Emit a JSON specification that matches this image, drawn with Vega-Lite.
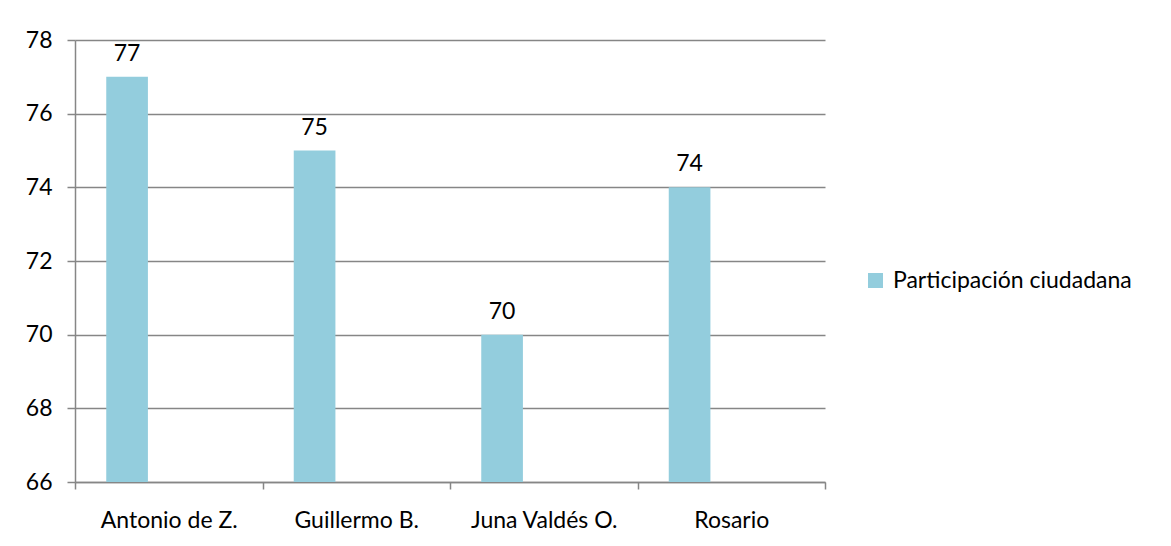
{
  "$schema": "https://vega.github.io/schema/vega-lite/v6.json",
  "width": 750,
  "height": 442,
  "autosize": {"type": "none"},
  "padding": {"left": 75, "top": 40, "right": 346, "bottom": 64},
  "background": "white",
  "config": {
    "font": "Lato",
    "view": {"stroke": null},
    "axis": {"labelFont": "Lato", "labelFontSize": 23, "labelColor": "#000000", "domainColor": "#868686", "tickColor": "#868686", "gridColor": "#868686", "domainWidth": 1.5, "tickWidth": 1.5}
  },
  "data": {
    "values": [
      {"candidato": "Antonio de Z.", "serie": "Participación ciudadana", "valor": 77},
      {"candidato": "Guillermo B.", "serie": "Participación ciudadana", "valor": 75},
      {"candidato": "Juna Valdés O.", "serie": "Participación ciudadana", "valor": 70},
      {"candidato": "Rosario", "serie": "Participación ciudadana", "valor": 74}
    ]
  },
  "encoding": {
    "x": {
      "field": "candidato", "type": "nominal", "sort": null,
      "scale": {"paddingInner": 0, "paddingOuter": 0},
      "axis": {"title": null, "labelAngle": 0, "domain": true, "ticks": true, "tickBand": "extent", "tickSize": 7, "grid": false, "labelPadding": 20, "labelLimit": 300}
    },
    "xOffset": {
      "field": "serie", "type": "nominal",
      "scale": {"domain": ["Participación ciudadana", "s2", "s3"], "paddingInner": 0, "paddingOuter": 0.75}
    }
  },
  "layer": [
    {
      "mark": {"type": "bar", "color": "#93CDDD"},
      "encoding": {
        "y": {
          "field": "valor", "type": "quantitative",
          "scale": {"domain": [66, 78], "zero": false, "nice": false},
          "axis": {"title": null, "values": [66, 68, 70, 72, 74, 76, 78], "tickSize": 8, "labelPadding": 15, "domain": true, "grid": true, "gridWidth": 1.5}
        },
        "y2": {"datum": 66},
        "color": {
          "field": "serie", "type": "nominal",
          "scale": {"domain": ["Participación ciudadana"], "range": ["#93CDDD"]},
          "legend": {
            "title": null, "orient": "none", "legendX": 789, "legendY": 229,
            "symbolType": "square", "symbolSize": 225, "symbolStrokeWidth": 0,
            "labelFontSize": 23, "labelFont": "Lato", "labelColor": "#000000", "labelOffset": 6, "labelLimit": 400
          }
        }
      }
    },
    {
      "mark": {"type": "text", "baseline": "alphabetic", "dy": -16, "fontSize": 23, "font": "Lato", "color": "#000000"},
      "encoding": {
        "y": {"field": "valor", "type": "quantitative"},
        "text": {"field": "valor", "type": "quantitative"}
      }
    }
  ]
}
